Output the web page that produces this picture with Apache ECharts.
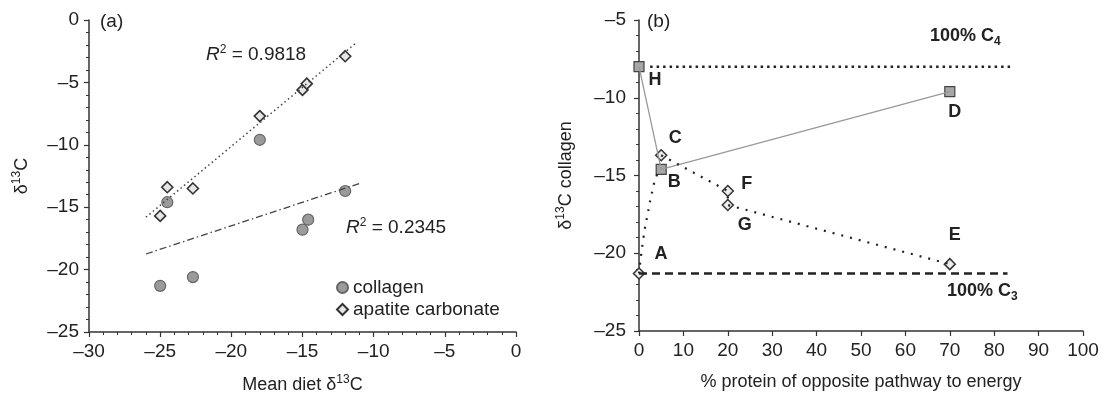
<!DOCTYPE html>
<html style="height: 100%">
<head>
    <meta charset="utf-8">
    <title>δ13C collagen / apatite</title>
    <script type="text/javascript" src="https://cdn.jsdelivr.net/npm/echarts@6/dist/echarts.min.js"></script>
</head>
<body style="height: 100%; margin: 0; background: #fff">
    <div id="container" style="width: 1106px; height: 396px"></div>
    <script type="text/javascript">
        // (a) mean diet vs measured d13C
        var collagenX = [-24.5, -25.0, -22.7, -18.0, -14.6, -15.0, -12.0];
        var collagenY = [-14.6, -21.3, -20.6, -9.6, -16.0, -16.8, -13.7];
        var apatiteX = [-24.5, -22.7, -18.0, -25.0, -15.0, -14.7, -12.0];
        var apatiteY = [-13.4, -13.5, -7.7, -15.7, -5.6, -5.1, -2.9];
        // regression lines (end points)
        var apatiteFitX = [-26.0, -11.2];
        var apatiteFitY = [-15.8, -1.8];
        var collagenFitX = [-26.0, -11.0];
        var collagenFitY = [-18.75, -13.1];

        // (b) % protein of opposite pathway vs collagen d13C
        var squareNames = ['H', 'B', 'D'];
        var squareX = [0, 5, 70];
        var squareY = [-8.0, -14.6, -9.6];
        var diamondNames = ['A', 'C', 'F', 'G', 'E'];
        var diamondX = [0, 5, 20, 20, 70];
        var diamondY = [-21.3, -13.7, -16.0, -16.9, -20.7];
        var curveABX = [0, 1, 2, 3, 4, 5];
        var curveABY = [-21.3, -19.0, -17.4, -16.0, -15.0, -14.6];
        var pathCEX = [5, 20, 20, 70];
        var pathCEY = [-13.7, -16.0, -16.9, -20.7];
        var c4X = [2.5, 84];
        var c4Y = [-8.0, -8.0];
        var c3X = [0, 83];
        var c3Y = [-21.3, -21.3];

        var xTicksA = { min: -30, max: 0, step: 5 };
        var yTicksA = { min: -25, max: 0, step: 5 };
        var xTicksB = { min: 0, max: 100, step: 10 };
        var yTicksB = { min: -25, max: -5, step: 5 };

        function zip(xs, ys) {
            var out = [];
            for (var i = 0; i < xs.length; i++) out.push([xs[i], ys[i]]);
            return out;
        }

        var FONT = 'Liberation Sans, Arial, sans-serif';
        var ink = '#222';
        var dash = function (v) { return String(v).replace('-', '\u2013'); };

        // label offsets for the lettered points of (b)
        var letterOffset = {
            H: [16, 13], B: [13, 13], D: [5, 21],
            A: [22, -19], C: [14, -17], F: [19, -7], G: [17, 20], E: [5, -29]
        };
        function lettered(names, xs, ys) {
            return names.map(function (n, i) {
                return {
                    name: n, value: [xs[i], ys[i]],
                    label: { offset: letterOffset[n] }
                };
            });
        }

        var supRich = {
            n: { fontSize: 18, fontFamily: FONT, color: ink, lineHeight: 22 },
            s: { fontSize: 12, fontFamily: FONT, color: ink, verticalAlign: 'top', lineHeight: 12 }
        };

        function axisCommon(t, margin, minor) {
            return {
                type: 'value', min: t.min, max: t.max, interval: t.step,
                splitLine: { show: false },
                axisLine: { onZero: false, lineStyle: { color: '#333', width: 1.5 } },
                axisTick: { show: true, inside: false, length: 5, lineStyle: { color: '#333', width: 1.2 } },
                minorTick: { show: minor, splitNumber: 5, length: 3, lineStyle: { color: '#333', width: 1 } },
                axisLabel: { formatter: dash, fontSize: 19, fontFamily: FONT, color: ink, margin: margin },
                nameTextStyle: { fontSize: 18, fontFamily: FONT, color: ink, rich: supRich }
            };
        }

        var xA = axisCommon(xTicksA, 10, true);
        xA.gridIndex = 0; xA.name = '{n|Mean diet δ}{s|13}{n|C}'; xA.nameLocation = 'middle'; xA.nameGap = 42;
        var yA = axisCommon(yTicksA, 10, true);
        yA.gridIndex = 0; yA.name = '{n|δ}{s|13}{n|C}'; yA.nameLocation = 'middle'; yA.nameGap = 56;
        var xB = axisCommon(xTicksB, 10, false);
        xB.gridIndex = 1; xB.name = '% protein of opposite pathway to energy'; xB.nameLocation = 'middle'; xB.nameGap = 42;
        var yB = axisCommon(yTicksB, 13, true);
        yB.gridIndex = 1; yB.name = '{n|δ}{s|13}{n|C collagen}'; yB.nameLocation = 'middle'; yB.nameGap = 62;

        var letterLabel = {
            show: true, position: 'inside', formatter: '{b}',
            fontSize: 18, fontWeight: 'bold', fontFamily: FONT, color: ink
        };

        var option = {
            animation: false,
            backgroundColor: '#fff',
            grid: [
                { left: 89, top: 20, width: 427, height: 312, outerBoundsMode: 'none', containLabel: false },
                { left: 639, top: 20, width: 444, height: 311, outerBoundsMode: 'none', containLabel: false }
            ],
            xAxis: [xA, xB],
            yAxis: [yA, yB],
            legend: {
                data: ['collagen', 'apatite carbonate'],
                orient: 'vertical', left: 331, top: 273,
                itemWidth: 11, itemHeight: 11, itemGap: 3,
                textStyle: { fontSize: 19, fontFamily: FONT, color: ink }
            },
            graphic: [
                { type: 'text', left: 100, top: 12, style: { text: '(a)', font: '19px ' + FONT, fill: ink } },
                { type: 'text', left: 647, top: 12, style: { text: '(b)', font: '19px ' + FONT, fill: ink } },
                {
                    type: 'text', left: 206, top: 44,
                    style: {
                        text: '{i|R}{s|2}{n| = 0.9818}',
                        rich: {
                            i: { fontSize: 19, fontStyle: 'italic', fontFamily: FONT, fill: ink, lineHeight: 22 },
                            s: { fontSize: 12, fontFamily: FONT, fill: ink, verticalAlign: 'top', lineHeight: 12 },
                            n: { fontSize: 19, fontFamily: FONT, fill: ink, lineHeight: 22 }
                        }
                    }
                },
                {
                    type: 'text', left: 346, top: 217,
                    style: {
                        text: '{i|R}{s|2}{n| = 0.2345}',
                        rich: {
                            i: { fontSize: 19, fontStyle: 'italic', fontFamily: FONT, fill: ink, lineHeight: 22 },
                            s: { fontSize: 12, fontFamily: FONT, fill: ink, verticalAlign: 'top', lineHeight: 12 },
                            n: { fontSize: 19, fontFamily: FONT, fill: ink, lineHeight: 22 }
                        }
                    }
                },
                {
                    type: 'text', left: 930, top: 27,
                    style: {
                        text: '{b|100% C}{u|4}',
                        rich: {
                            b: { fontSize: 18, fontWeight: 'bold', fontFamily: FONT, fill: ink, lineHeight: 24 },
                            u: { fontSize: 12, fontWeight: 'bold', fontFamily: FONT, fill: ink, verticalAlign: 'bottom', lineHeight: 12 }
                        }
                    }
                },
                {
                    type: 'text', left: 947, top: 282,
                    style: {
                        text: '{b|100% C}{u|3}',
                        rich: {
                            b: { fontSize: 18, fontWeight: 'bold', fontFamily: FONT, fill: ink, lineHeight: 24 },
                            u: { fontSize: 12, fontWeight: 'bold', fontFamily: FONT, fill: ink, verticalAlign: 'bottom', lineHeight: 12 }
                        }
                    }
                }
            ],
            series: [
                // ---- panel (a)
                {
                    name: 'apatite fit', type: 'line', xAxisIndex: 0, yAxisIndex: 0,
                    data: zip(apatiteFitX, apatiteFitY), symbol: 'none', silent: true,
                    lineStyle: { color: '#444', width: 1.5, type: [1.5, 3] }
                },
                {
                    name: 'collagen fit', type: 'line', xAxisIndex: 0, yAxisIndex: 0,
                    data: zip(collagenFitX, collagenFitY), symbol: 'none', silent: true,
                    lineStyle: { color: '#444', width: 1.3, type: [7, 3, 1.5, 3] }
                },
                {
                    name: 'collagen', type: 'scatter', xAxisIndex: 0, yAxisIndex: 0,
                    data: zip(collagenX, collagenY), symbol: 'circle', symbolSize: 11,
                    itemStyle: { color: '#9b9b9b', borderColor: '#666', borderWidth: 1.2, opacity: 1 }
                },
                {
                    name: 'apatite carbonate', type: 'scatter', xAxisIndex: 0, yAxisIndex: 0,
                    data: zip(apatiteX, apatiteY), symbol: 'diamond', symbolSize: 11,
                    itemStyle: { color: '#e6e6e6', borderColor: '#333', borderWidth: 1.6, opacity: 1 }
                },
                // ---- panel (b)
                {
                    name: 'C4', type: 'line', xAxisIndex: 1, yAxisIndex: 1,
                    data: zip(c4X, c4Y), symbol: 'none', silent: true,
                    lineStyle: { color: '#222', width: 2.5, type: [2.5, 4], cap: 'butt' }
                },
                {
                    name: 'C3', type: 'line', xAxisIndex: 1, yAxisIndex: 1,
                    data: zip(c3X, c3Y), symbol: 'none', silent: true,
                    lineStyle: { color: '#222', width: 2.5, type: [8, 5] }
                },
                {
                    name: 'H-B-D', type: 'line', xAxisIndex: 1, yAxisIndex: 1,
                    data: zip(squareX, squareY), symbol: 'none', silent: true,
                    lineStyle: { color: '#999', width: 1.3 }
                },
                {
                    name: 'A-B', type: 'line', xAxisIndex: 1, yAxisIndex: 1, smooth: true,
                    data: zip(curveABX, curveABY), symbol: 'none', silent: true,
                    lineStyle: { color: '#222', width: 2.2, type: [2, 7] }
                },
                {
                    name: 'C-E', type: 'line', xAxisIndex: 1, yAxisIndex: 1,
                    data: zip(pathCEX, pathCEY), symbol: 'none', silent: true,
                    lineStyle: { color: '#222', width: 2.2, type: [2, 7] }
                },
                {
                    name: 'squares', type: 'scatter', xAxisIndex: 1, yAxisIndex: 1,
                    data: lettered(squareNames, squareX, squareY), symbol: 'rect', symbolSize: 10,
                    itemStyle: { color: '#a6a6a6', borderColor: '#444', borderWidth: 1.2, opacity: 1 },
                    label: letterLabel
                },
                {
                    name: 'diamonds', type: 'scatter', xAxisIndex: 1, yAxisIndex: 1,
                    data: lettered(diamondNames, diamondX, diamondY), symbol: 'diamond', symbolSize: 11,
                    itemStyle: { color: '#ececec', borderColor: '#333', borderWidth: 1.5, opacity: 1 },
                    label: letterLabel
                }
            ]
        };

        var myChart = echarts.init(document.getElementById('container'));
        myChart.setOption(option);
    </script>
</body>
</html>
